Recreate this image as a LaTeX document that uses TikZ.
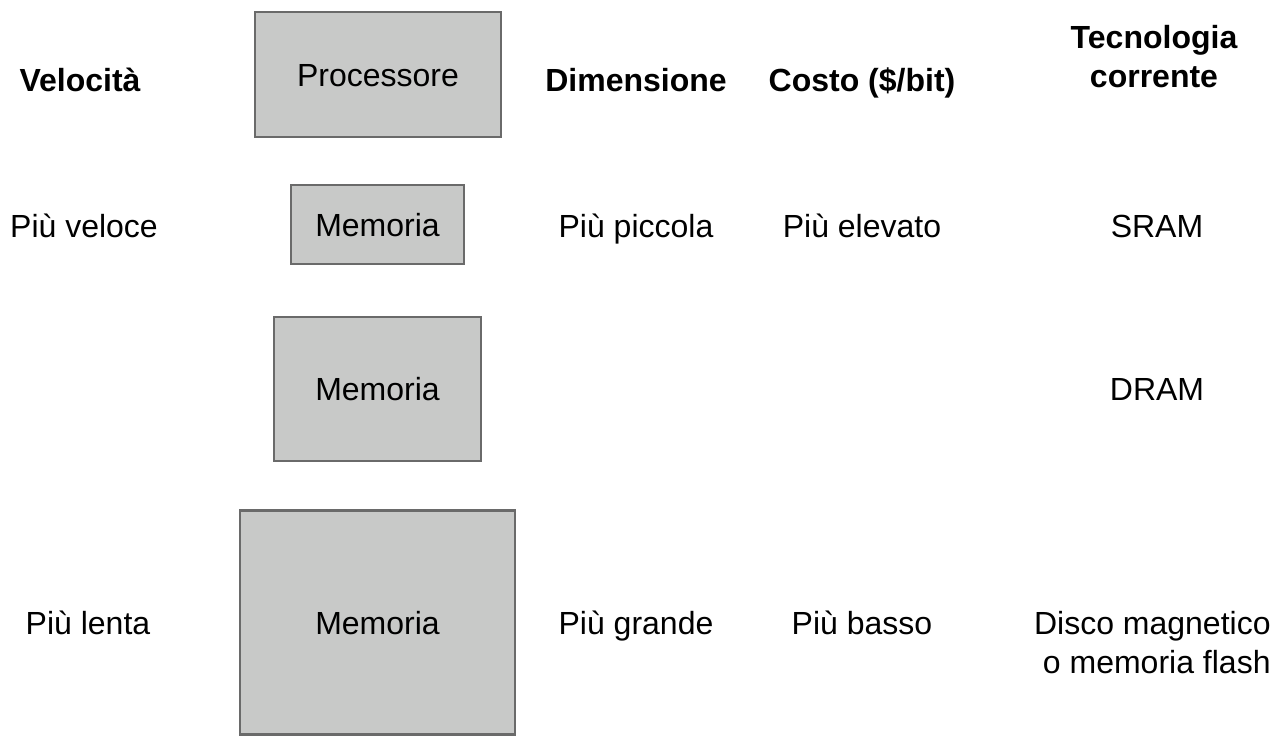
\documentclass[tikz,border=0pt]{standalone}
\usepackage{fontspec}
\setmainfont{Liberation Sans}
\usetikzlibrary{positioning}
\definecolor{boxgray}{HTML}{C8C9C8}
\definecolor{edgegray}{HTML}{6A6A6A}

\begin{document}
\begin{tikzpicture}[x=0.5pt,y=-0.5pt,
  membox/.style={draw=edgegray,line width=1.4pt,fill=boxgray,inner sep=0pt,
    font=\fontsize{16}{19}\selectfont,text height=12pt,text depth=0pt},
  hdr/.style={font=\fontsize{16}{19}\selectfont\bfseries,inner sep=0pt,anchor=base},
  lbl/.style={font=\fontsize{16}{19}\selectfont,inner sep=0pt,anchor=base}]
  \useasboundingbox (0,0) rectangle (1280,748);
% Headings
  \node[hdr] (vel) at (80,91.5) {Velocit\`a};
  \node[hdr] (dim) at (636,91.5) {Dimensione};
  \node[hdr] (cost) at (862,91.5) {Costo (\$/bit)};
  \node[hdr] (tec) at (1154,48.5) {Tecnologia};
  \node[hdr] (tec2) at (1154,87.5) {corrente};
% Boxes
  \node[membox,minimum width=123pt,minimum height=62.5pt] (proc) at (378,74.5) {Processore};
  \node[membox,minimum width=86.5pt,minimum height=39.5pt] (mem1) at (377.5,224.5) {Memoria};
  \node[membox,minimum width=103.5pt,minimum height=72pt] (mem2) at (377.5,389) {Memoria};
  \node[membox,minimum width=137.5pt,minimum height=112pt] (mem3) at (377.5,622.5) {Memoria};
% Top row
  \node[lbl] (fast) at (84,237.5) {Pi\`u veloce};
  \node[lbl] (small) at (636,237.5) {Pi\`u piccola};
  \node[lbl] (high) at (862,237.5) {Pi\`u elevato};
  \node[lbl] (sram) at (1157,237.5) {SRAM};
% Middle row
  \node[lbl] (dram) at (1157,401) {DRAM};
% Bottom row
  \node[lbl] (slow) at (88,634) {Pi\`u lenta};
  \node[lbl] (large) at (636,634) {Pi\`u grande};
  \node[lbl] (low) at (862,634) {Pi\`u basso};
  \node[lbl,anchor=base east] (disk) at (1271,634) {Disco magnetico};
  \node[lbl,anchor=base east] (disk2) at (1271,673) {o memoria flash};
\end{tikzpicture}
\end{document}
